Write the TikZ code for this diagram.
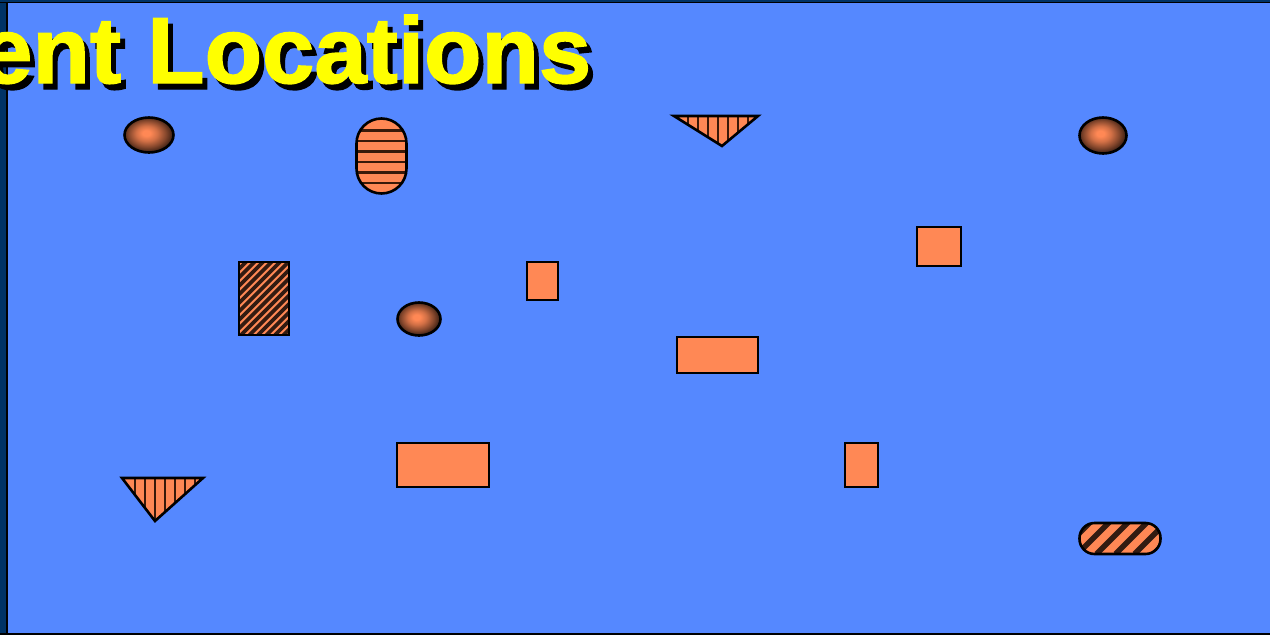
\documentclass[tikz,border=0pt]{standalone}
\usepackage{fontspec}
\setmainfont{Liberation Sans}
\usetikzlibrary{shapes.geometric}
\definecolor{bgblue}{HTML}{5588FF}
\definecolor{navy}{HTML}{003366}
\definecolor{org}{HTML}{FF8855}
\definecolor{stripecol}{HTML}{3A1A0A}
\definecolor{ttl}{HTML}{FFFF00}
\pgfdeclareradialshading{ballshade}{\pgfpoint{-3bp}{3bp}}{color(0bp)=(org); color(4bp)=(org); color(11bp)=(org!82!black); color(19bp)=(org!52!black); color(26bp)=(org!22!black); color(31bp)=(black); color(50bp)=(black)}
\tikzset{
  obj/.style={draw=black, line width=2.6pt, fill=org, inner sep=0pt, outer sep=0pt},
  box/.style={obj, rectangle},
  ball/.style={ellipse, draw=black, line width=2.6pt, shading=ballshade, inner sep=0pt},
  stripeline/.style={draw=stripecol, line width=2.6pt},
  vstripes/.style={path picture={\foreach \i in {#1}
      \draw[stripeline] ([xshift=\i pt]path picture bounding box.north west) -- ([xshift=\i pt]path picture bounding box.south west);}},
  hstripes/.style={path picture={\foreach \i in {#1}
      \draw[stripeline] ([yshift=-\i pt]path picture bounding box.north west) -- ([yshift=-\i pt]path picture bounding box.north east);}},
  dstripes/.style n args={5}{path picture={\foreach \t in {#1,#2,...,#3}
      \draw[draw=black!80!org, line width=#5] ([xshift=\t pt]path picture bounding box.south west) -- ++(#4,#4);}},
  titletext/.style={font=\bfseries\fontsize{94}{94}\selectfont, anchor=base west, inner sep=0pt}
}
\begin{document}
\begin{tikzpicture}[x=1pt,y=-1pt]
\useasboundingbox (0,0) rectangle (1270,635);
\clip (0,0) rectangle (1270,635);
% background and frame
\fill[bgblue] (0,0) rectangle (1270,635);
\fill[navy] (0,0) rectangle (5.5,635);
\fill[black] (5.5,0) rectangle (7.5,635);
\fill[navy] (0,0) rectangle (1270,2);
\fill[black] (0,2) rectangle (1270,3.2);
\fill[black] (0,632.5) rectangle (1270,634.5);
% title
\node[titletext, text=black] (titleshadow) at (-15,89) {\addfontfeature{FakeBold=1.5}ent Locations};
\node[titletext, text=ttl] (title) at (-20,83) {\addfontfeature{FakeBold=1.5}ent Locations};
% balls
\node[ball, minimum width=49pt, minimum height=35pt] (ball1) at (149,135) {};
\node[ball, minimum width=47pt, minimum height=36pt] (ball2) at (1103,135.5) {};
\node[ball, minimum width=43pt, minimum height=33pt] (ball3) at (419,319) {};
% vertical pill with horizontal stripes
\node[obj, rectangle, rounded corners=25pt, minimum width=50pt, minimum height=75pt,
      hstripes={12,22.5,33,43.5,54,64.5,75}] (pillv) at (381.5,156) {};
% triangles
\draw[obj, vstripes={14,24,...,74}] (674,116) coordinate (t1a) -- (758,116) coordinate (t1b) -- (722,146) coordinate (t1c) -- cycle;
\draw[obj, vstripes={13,23,...,73}] (122,478) coordinate (t2a) -- (203,478) coordinate (t2b) -- (155,521) coordinate (t2c) -- cycle;
% hatched box
\node[box, minimum width=50pt, minimum height=73pt,
      dstripes={-100}{-91.5}{60}{100pt}{3.6pt}] (hatchbox) at (264,298.5) {};
% plain boxes
\node[box, minimum width=31pt, minimum height=38pt] (box1) at (542.5,281) {};
\node[box, minimum width=44pt, minimum height=39pt] (box2) at (939,246.5) {};
\node[box, minimum width=81pt, minimum height=36pt] (box3) at (717.5,355) {};
\node[box, minimum width=92pt, minimum height=44pt] (box4) at (443,465) {};
\node[box, minimum width=33pt, minimum height=44pt] (box5) at (861.5,465) {};
% horizontal pill with diagonal stripes
\node[obj, rectangle, rounded corners=15pt, minimum width=81pt, minimum height=31pt,
      dstripes={-40}{-21}{100}{60pt}{5.5pt}] (pillh) at (1120,538.5) {};
\end{tikzpicture}
\end{document}
